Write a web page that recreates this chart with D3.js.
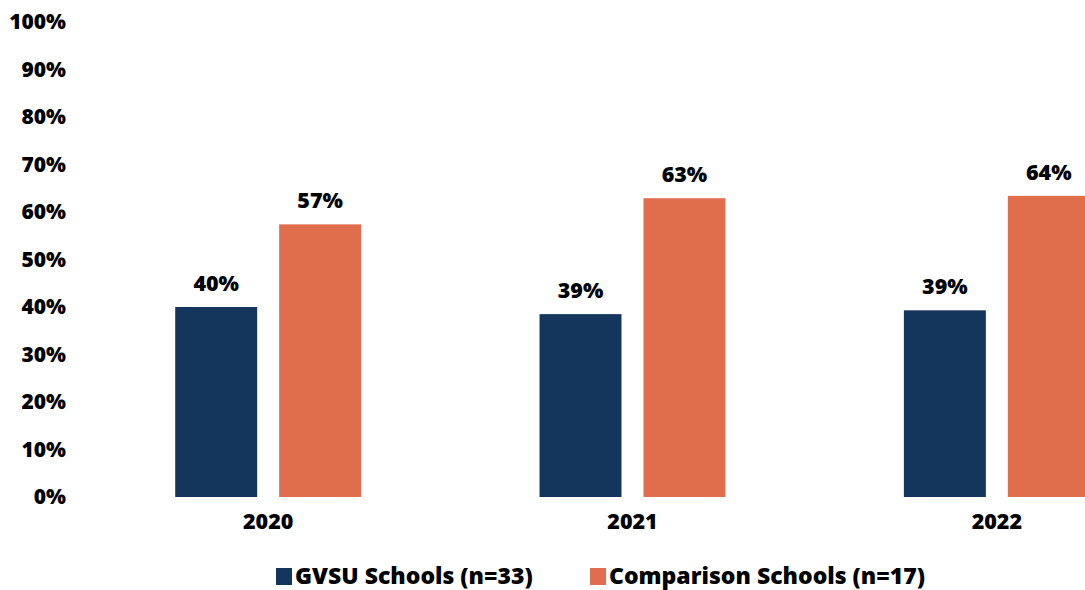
<!DOCTYPE html>
<html>
<head>
<meta charset="utf-8">
<script src="https://cdn.jsdelivr.net/npm/d3@7"></script>
<style>
  html, body { margin: 0; padding: 0; background: #fff; }
  svg { display: block; font-family: "Open Sans", sans-serif; font-weight: 800; }
</style>
</head>
<body>
<div id="chart"></div>
<script>
const years = ['2020', '2021', '2022'];
const seriesNames = ['GVSU Schools (n=33)', 'Comparison Schools (n=17)'];
const gvsu = [40.0, 38.5, 39.3];
const comparison = [57.4, 62.9, 63.4];
const valueLabels = [['40%', '39%', '39%'], ['57%', '63%', '64%']];
const yTicks = [0, 10, 20, 30, 40, 50, 60, 70, 80, 90, 100];
const colors = ['#15365c', '#e06d4b'];

const width = 1085, height = 590;
const margin = {top: 22, bottom: 93};
const font = '"Open Sans", sans-serif';

const svg = d3.select('#chart')
  .append('svg')
    .attr('width', width)
    .attr('height', height);

const y = d3.scaleLinear()
  .domain([0, 100])
  .range([height - margin.bottom, margin.top]);

const x0 = d3.scaleBand()
  .domain(years)
  .range([86, 1179])
  .paddingInner(0.4897)
  .paddingOuter(0.4897 / 2);

const x1 = d3.scaleBand()
  .domain([0, 1])
  .range([0, x0.bandwidth()])
  .paddingInner(22 / 104);

// y axis
svg.append('g')
  .attr('transform', 'translate(66,0)')
  .call(d3.axisLeft(y).tickValues(yTicks).tickSize(0).tickPadding(0).tickFormat(d => d + '%'))
  .call(g => g.select('.domain').remove())
  .selectAll('text')
    .attr('font-family', font)
    .attr('font-weight', 800)
    .attr('font-size', 21)
    .attr('fill', '#000');

// x axis labels
svg.append('g')
  .attr('transform', `translate(0,${y(0)})`)
  .call(d3.axisBottom(x0).tickSize(0).tickPadding(17))
  .call(g => g.select('.domain').remove())
  .selectAll('text')
    .attr('font-family', font)
    .attr('font-weight', 800)
    .attr('font-size', 21.5)
    .attr('fill', '#000');

const seriesData = [gvsu, comparison];

const groups = svg.append('g')
  .selectAll('g')
  .data(years)
  .join('g')
    .attr('transform', d => `translate(${x0(d)},0)`);

groups.selectAll('rect')
  .data((d, i) => seriesData.map((s, k) => ({k, v: s[i]})))
  .join('rect')
    .attr('x', d => x1(d.k))
    .attr('y', d => y(d.v))
    .attr('width', x1.bandwidth())
    .attr('height', d => y(0) - y(d.v))
    .attr('fill', d => colors[d.k]);

groups.selectAll('text.val')
  .data((d, i) => seriesData.map((s, k) => ({k, v: s[i], label: valueLabels[k][i]})))
  .join('text')
    .attr('class', 'val')
    .attr('x', d => x1(d.k) + x1.bandwidth() / 2)
    .attr('y', d => y(d.v) - 16)
    .attr('text-anchor', 'middle')
    .attr('font-size', 21.5)
    .attr('fill', '#000')
    .text(d => d.label);

// legend
const legendX = [276, 590];
const legend = svg.append('g')
  .selectAll('g')
  .data(seriesNames)
  .join('g')
    .attr('transform', (d, i) => `translate(${legendX[i]},576)`);

legend.append('rect')
  .attr('x', 0)
  .attr('y', -8)
  .attr('width', 16)
  .attr('height', 17)
  .attr('fill', (d, i) => colors[i]);

legend.append('text')
  .attr('x', 19)
  .attr('y', 8)
  .attr('font-size', 23)
  .attr('fill', '#000')
  .text(d => d);
</script>
</body>
</html>
